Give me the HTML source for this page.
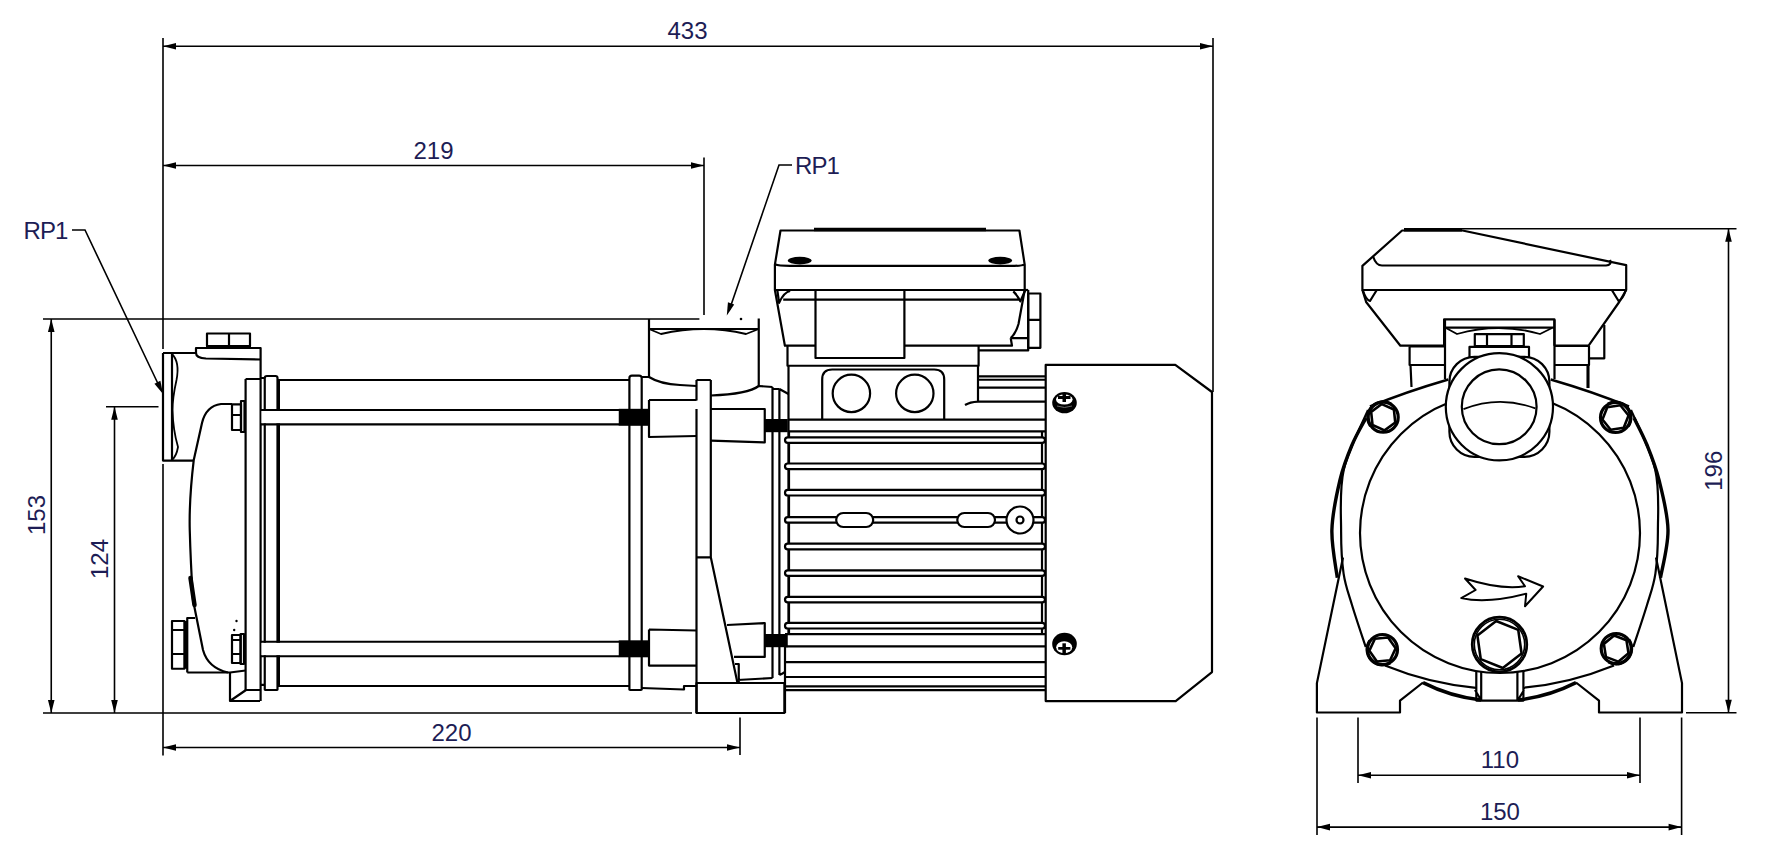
<!DOCTYPE html>
<html><head><meta charset="utf-8">
<style>
html,body{margin:0;padding:0;background:#fff;width:1772px;height:857px;overflow:hidden}
svg{display:block}
.d{stroke:#000;stroke-width:1.6;fill:none}
.m{stroke:#000;stroke-width:2.2;fill:none;stroke-linejoin:round}
.k{fill:#000;stroke:none}
.w{fill:#fff}
text{font-family:"Liberation Sans",sans-serif;font-size:24px;fill:#1d1d55}
</style></head><body>
<svg width="1772" height="857" viewBox="0 0 1772 857">
<!-- DIMENSIONS -->
<g id="dims">
<!-- 433 -->
<path class="d" d="M163,38V349 M1213,38V392 M163,46.2H1213"/>
<path class="k" d="M163,46.2l13,-3.3v6.6z M1213,46.2l-13,-3.3v6.6z"/>
<text x="687.5" y="39" text-anchor="middle">433</text>
<!-- 219 -->
<path class="d" d="M704,157.5V315 M163,165.5H704"/>
<path class="k" d="M163,165.5l13,-3.3v6.6z M704,165.5l-13,-3.3v6.6z"/>
<text x="433.5" y="158.5" text-anchor="middle">219</text>
<!-- 153 / 124 -->
<path class="d" d="M43,319H699.4 M43,713H692 M51.25,319V713 M106,406.75H158.5 M114.5,406.75V713"/>
<path class="k" d="M51.25,319l-3.3,13h6.6z M51.25,713l-3.3,-13h6.6z M114.5,406.75l-3.3,13h6.6z M114.5,713l-3.3,-13h6.6z"/>
<text transform="translate(45,515) rotate(-90)" text-anchor="middle">153</text>
<text transform="translate(108,559) rotate(-90)" text-anchor="middle">124</text>
<!-- 220 -->
<path class="d" d="M163,464V755.5 M740,717.4V755 M163,747.5H740"/>
<path class="k" d="M163,747.5l13,-3.3v6.6z M740,747.5l-13,-3.3v6.6z"/>
<text x="451.5" y="740.5" text-anchor="middle">220</text>
<!-- RP1 leaders -->
<path class="d" d="M72,230H85L161,390"/>
<path class="k" d="M163.00,394.00 L154.44,383.68 L160.40,380.84 Z"/>
<text x="23.5" y="239" letter-spacing="-0.9">RP1</text>
<path class="d" d="M792,165H779L729,311"/>
<path class="k" d="M726.80,315.60 L727.94,302.24 L734.18,304.40 Z"/><circle class="k" cx="741" cy="319" r="1.3"/>
<text x="795" y="174" letter-spacing="-0.9">RP1</text>
<!-- 196 -->
<path class="d" d="M1404.8,228.75H1736.5 M1686,712.7H1736.5 M1728.5,228.75V712.7"/>
<path class="k" d="M1728.5,228.75l-3.3,13h6.6z M1728.5,712.7l-3.3,-13h6.6z"/>
<text transform="translate(1721.5,470.75) rotate(-90)" text-anchor="middle">196</text>
<!-- 110 / 150 -->
<path class="d" d="M1358,717.5V783 M1640,717.5V783 M1358,775.2H1640 M1317,717.5V835 M1681.6,717.5V835 M1317,827.1H1681.6"/>
<path class="k" d="M1358,775.2l13,-3.3v6.6z M1640,775.2l-13,-3.3v6.6z M1317,827.1l13,-3.3v6.6z M1681.6,827.1l-13,-3.3v6.6z"/>
<text x="1499.9" y="768" text-anchor="middle">110</text>
<text x="1499.9" y="820" text-anchor="middle">150</text>
</g>

<!-- LEFT VIEW -->
<g id="left">
<!-- inlet flange -->
<path class="m" d="M163,353V460.6H193.75 M172,353V460.6 M163,353H196"/>
<path class="m" style="stroke-width:1.8" d="M172,354Q180,362 176.5,380Q172.5,398 172.5,410Q173,430 178,447Q176.5,456 172,460"/>
<!-- top bracket -->
<path class="m" d="M196,353V348H260.6V701 M196,353Q196,358 206,358.5L260.6,359.5"/>
<rect class="m" x="207" y="333.5" width="43" height="12.5"/>
<path class="m" d="M229,333.5V346"/>
<path class="m" style="stroke-width:3" d="M206,347H251"/>
<!-- body -->
<path class="m" d="M232,404H221Q206,406 202,423L193.75,460Q189,500 189.75,530Q190.5,560 193,600L203,650Q208,668 228,672.5"/>
<path class="m" style="stroke-width:4.5;stroke-linecap:round" d="M190.5,578L194.5,605"/>
<path class="m" d="M187.25,672.5H230L245.6,670.5"/>
<!-- nuts -->
<rect class="m" x="232" y="404.4" width="9" height="25.6"/>
<path class="m" d="M232,415H241 M241,401V432H244.5V401Z"/>
<rect class="m" x="232" y="635" width="8.6" height="28"/>
<path class="m" d="M232,640H240.6 M232,654H240.6 M240.6,634V664H244V634Z"/>
<rect class="m" x="172" y="621" width="12.4" height="47.75"/>
<path class="m" d="M172,630H184.4 M172,654H184.4"/>
<path class="m" style="stroke-width:3" d="M185.8,621V668.75"/>
<path class="m" d="M187.25,672.5V618H195"/>
<circle class="k" cx="236.5" cy="621" r="1.2"/><circle class="k" cx="234.2" cy="630" r="1.2"/>
<!-- foot -->
<path class="m" d="M230,672V701H260 M230,701L246,690H260"/>
<!-- plates -->
<path class="m" d="M245.6,379V690 M245.6,379H260.6 M260,684.8H264.5 M260,378H264.5"/>
<path class="m" d="M264.75,689.4V378Q264.75,376 267,376H275.5Q277.5,376 277.5,378V689.4Q277.5,690 275.5,690H267Q264.75,690 264.75,689.4Z"/>
<path class="m" style="stroke-width:3" d="M278.5,380V686"/>
<!-- tube -->
<path class="m" d="M278,380H629.4 M278,686H629.4"/>
<!-- rods -->
<rect class="w" x="261.5" y="411" width="358" height="12.4"/><rect class="w" x="261.5" y="642.75" width="358" height="12.5"/>
<path class="m" d="M261,410H619 M261,424.4H619 M261,641.75H619 M261,656.25H619"/>
<rect class="k" x="618.75" y="408.8" width="30.65" height="17"/>
<rect class="k" x="618.75" y="640.3" width="30.65" height="17"/>
<!-- right plate -->
<path class="m" d="M629.4,689.4V378Q629.4,375.6 632,375.6H639Q641.7,375.6 641.7,378V689.4Q641.7,690 639,690H632Q629.4,690 629.4,689.4Z"/>
<!-- blocks -->
<path class="m" d="M649,400H696.5 M649,400V437L696.5,436"/>
<path class="m" d="M649,629.5L696.5,630.5 M649,629.5V665.6H696.5"/>
<path class="m" d="M641.7,688L684,689.5V686H696.5"/>
<!-- bracket plate -->
<path class="m" d="M696.5,380V400.5 M696.5,409V713 M710.8,380V557.3 M696.5,380H710.8 M696.5,557.3H710.8 M710.8,557.3L737.5,683"/>
<path class="m" d="M711,409H764.75V442.5L711,440.6"/>
<path class="m" d="M727,625L764.75,623V656.9H734"/>
<rect class="k" x="764.75" y="419" width="23" height="13.2"/>
<rect class="k" x="764.75" y="634" width="23" height="13.2"/>
<path class="m" d="M735,664H738.75V682 M737.5,680L772.5,678"/>
<rect class="m" x="696.5" y="683" width="87.9" height="30"/>
<!-- outlet port -->
<path class="m" d="M649,319V377 M649,329H758.75 M758.75,318.5V386"/>
<path class="m" style="stroke-width:1.8" d="M649,329L661,334Q704,324 746,334L758.75,329"/>
<path class="m" d="M641.7,377H649 M649,377Q660,384 680,385L696.5,386 M758.75,386Q748,394 711,395.5 M758.75,386L772.5,387"/>
<path class="m" d="M772.5,387V678 M779.4,389V675 M779.4,389L788.5,394 M772.5,389H779.4 M779.4,675Q782,674 785,672"/>
<!-- motor -->
<path class="m" d="M788.5,366V634 M785,634V713 M788.5,419.7H1045.7 M788.5,431.4H1045.7"/>
<path class="m" d="M789,431V634 M1042,431V634"/>
<path class="m" d="M785,634.1H1045.7 M785,646.4H1045.7 M785,662.1H1045.7 M785,677H1045.7 M785,686.3H1045.7 M785,690.1H1045.7"/>
<rect class="m w" x="785" y="437.30" width="260" height="5.6" rx="2.8"/>
<rect class="m w" x="785" y="463.50" width="260" height="5.6" rx="2.8"/>
<rect class="m w" x="785" y="489.90" width="260" height="5.6" rx="2.8"/>
<rect class="m w" x="785" y="517.10" width="260" height="5.6" rx="2.8"/>
<rect class="m w" x="785" y="543.70" width="260" height="5.6" rx="2.8"/>
<rect class="m w" x="785" y="570.30" width="260" height="5.6" rx="2.8"/>
<rect class="m w" x="785" y="596.80" width="260" height="5.6" rx="2.8"/>
<rect class="m w" x="785" y="622.90" width="260" height="5.6" rx="2.8"/>

<rect class="m w" x="836.2" y="513" width="37" height="14" rx="7"/>
<rect class="m w" x="957.3" y="513" width="37.7" height="14" rx="7"/>
<circle class="m w" cx="1020" cy="520" r="13.5"/>
<circle class="m" cx="1020" cy="520" r="3.5"/>
<!-- end cover -->
<path class="m" d="M1045.7,364.9H1175.3L1212,392V672.1L1175.7,701.1H1045.7Z"/>
<!-- screws -->
<g><ellipse class="k" cx="1064.5" cy="402.7" rx="12.3" ry="10.6"/><ellipse class="w" cx="1064.3" cy="399.6" rx="8.3" ry="5"/><rect class="k" x="1058" y="396" width="12.5" height="3"/><rect class="k" x="1062.5" y="394" width="3.5" height="8"/><path d="M1057,406Q1064.5,409 1072,406" stroke="#666" stroke-width="1" fill="none"/></g>
<g><ellipse class="k" cx="1064.5" cy="644" rx="12.3" ry="11.2"/><ellipse class="w" cx="1064.2" cy="647.2" rx="8" ry="6"/><rect class="k" x="1058.2" y="647" width="12.2" height="2.7"/><rect class="k" x="1062.4" y="643.3" width="3.5" height="11"/></g>
<!-- terminal box -->
<path class="m" d="M787.5,345.7V365.75H978.6V345.7"/>
<path class="m" d="M822.2,419.7V379.5Q822.2,369.5 832.2,369.5H934.2Q944.2,369.5 944.2,379.5V419.7"/>
<circle class="m" cx="851.4" cy="393.4" r="18.7"/>
<circle class="m" cx="914.8" cy="393.4" r="18.7"/>
<path class="m" d="M978,366V401.6H1045.7 M978,376.3H1045.7 M978,379.75H1045.7 M978,387.6H1045.7 M978,401.6Q970,402 965,405"/>
<path class="m" d="M780.5,230.5H1019.4L1024.7,264.6V290H774.9V264.6Z"/><path class="m" d="M1024.7,290H1028.2"/>
<path class="m" style="stroke-width:3.5" d="M814,229.5H986"/>
<path class="m" d="M775.5,264.6Q778,265.9 790,265.9H1010Q1022,265.9 1024.2,264.6"/>
<ellipse class="k" cx="799.75" cy="260.6" rx="12" ry="3.8"/>
<ellipse class="k" cx="1000.2" cy="260.6" rx="12" ry="3.8"/>
<path class="m" d="M774.9,290L784.9,345.7H815.5 M904.4,345.7H1012L1010.7,338 M1024.7,290L1018.5,324Q1016,333 1010.7,338"/>
<path class="m" d="M783.2,299.6H1020 M777.3,290Q779,302 779.1,302.8Q784,292 790.2,291 M1013.3,291.4Q1018,296 1020.3,301.4L1025.4,290"/>
<rect class="m" x="815.5" y="290" width="88.9" height="68"/>
<rect class="m" x="1028.2" y="293.5" width="12.2" height="54.3"/>
<path class="m" d="M1028.2,319.8H1040.4 M1010.7,338.2H1028.2 M1028.2,290V350.4H978.6"/>
</g>

<!-- SIDE VIEW -->
<g id="side">
<!-- feet -->
<path class="m" d="M1343,557.5L1316.9,683.1V712.5H1400V700.6L1423,682.5"/>
<path class="m" d="M1656,557.5L1682,683.1V712.5H1599V700.6L1576,682.5"/>
<!-- motor outer arcs -->
<path class="m" style="stroke-width:3.4" d="M1366.00,418.00 C1363.67,422.50 1356.33,434.67 1352.00,445.00 C1347.67,455.33 1343.35,465.83 1340.00,480.00 C1336.65,494.17 1332.35,513.70 1331.90,530.00 C1331.45,546.30 1336.40,569.83 1337.30,577.80 M1634.00,418.00 C1636.17,422.50 1642.83,434.67 1647.00,445.00 C1651.17,455.33 1655.50,465.83 1659.00,480.00 C1662.50,494.17 1667.75,513.70 1668.00,530.00 C1668.25,546.30 1661.75,569.83 1660.50,577.80 M1423.00,682.63 A168.50,168.50 0 0 0 1481.01,699.98 M1576.00,682.63 A168.50,168.50 0 0 1 1517.99,699.98"/>
<!-- volute circle -->
<circle class="m" cx="1500" cy="533" r="140"/>
<!-- flange outline -->
<path class="m" d="M1368.00,410.00 C1363.95,420.00 1348.18,449.83 1343.70,470.00 C1339.22,490.17 1341.12,513.73 1341.10,531.00 C1341.08,548.27 1341.78,561.27 1343.60,573.60 C1345.42,585.93 1348.32,592.77 1352.00,605.00 C1355.68,617.23 1363.42,640.00 1365.70,647.00 M1631.00,410.00 C1635.05,420.00 1650.82,449.83 1655.30,470.00 C1659.78,490.17 1657.88,513.73 1657.90,531.00 C1657.92,548.27 1657.22,561.27 1655.40,573.60 C1653.58,585.93 1650.68,592.77 1647.00,605.00 C1643.32,617.23 1635.58,640.00 1633.30,647.00"/>
<path class="m" style="stroke-width:2.6" d="M1370,406.5Q1405,392 1448.3,379.4 M1629,406.5Q1594,392 1550.7,379.4"/>
<path class="m" d="M1385,665.6Q1430.3,684 1476,687.8 M1614,665.6Q1568.7,684 1523,687.8"/>
<!-- bolts -->
<circle class="m w" style="stroke-width:3.2" cx="1383.20" cy="417.20" r="15"/>
<path class="m" style="stroke-width:2.6" d="M1381.82,404.07 L1393.88,409.44 L1395.26,422.57 L1384.58,430.33 L1372.52,424.96 L1371.14,411.83Z"/>
<path class="m" style="stroke-width:2.2" d="M1391.15,403.43 A15.90,15.90 0 0 0 1370.18,426.32"/>
<circle class="m w" style="stroke-width:3.2" cx="1615.50" cy="417.50" r="15"/>
<path class="m" style="stroke-width:2.6" d="M1628.56,415.55 L1623.72,427.83 L1610.66,429.78 L1602.44,419.45 L1607.28,407.17 L1620.34,405.22Z"/>
<path class="m" style="stroke-width:2.2" d="M1607.55,403.73 A15.90,15.90 0 0 1 1628.52,426.62"/>
<circle class="m w" style="stroke-width:3.2" cx="1382.50" cy="649.50" r="15"/>
<path class="m" style="stroke-width:2.6" d="M1395.65,648.35 L1390.07,660.31 L1376.92,661.46 L1369.35,650.65 L1374.93,638.69 L1388.08,637.54Z"/>
<path class="m" style="stroke-width:2.2" d="M1369.48,640.38 A15.90,15.90 0 0 0 1390.45,663.27"/>
<circle class="m w" style="stroke-width:3.2" cx="1616.20" cy="648.60" r="15"/>
<path class="m" style="stroke-width:2.6" d="M1614.14,635.56 L1626.46,640.29 L1628.52,653.33 L1618.26,661.64 L1605.94,656.91 L1603.88,643.87Z"/>
<path class="m" style="stroke-width:2.2" d="M1629.22,639.48 A15.90,15.90 0 0 1 1608.25,662.37"/>
<!-- drain plug -->
<path class="m" d="M1476.3,671.6V700.6H1523.4V671.6 M1481.2,671.6V700.6 M1517.4,671.6V700.6 M1475,690L1481,700 M1524,690L1518,700"/>
<circle class="m w" style="stroke-width:2.7" cx="1499.5" cy="644.5" r="27.3"/>
<circle class="m" style="stroke-width:1.6" cx="1499.5" cy="644.5" r="25.2"/>
<path class="m" style="stroke-width:2.6" d="M1496.19,620.93 L1518.25,629.85 L1521.57,653.42 L1502.81,668.07 L1480.75,659.15 L1477.43,635.58Z"/>

<!-- arrow -->
<path class="m" style="stroke-width:2" d="M1465,578.5L1475.6,590L1461.25,598.1Q1487,604 1526.25,593.75L1525,606.25L1543.1,586.5L1518.1,576.25L1525,586.25Q1500,590 1465,578.5Z"/>
<!-- terminal box / gland -->
<path class="m" d="M1445,319.4V379 M1554.5,319.4V379"/>
<path class="m" d="M1409.6,346.4H1444 M1409.6,346.4V365H1444 M1410.5,365L1411.5,387"/>
<path class="m" d="M1589,346H1554.5 M1589,346V365H1554.5 M1588,365V388"/>
<path class="m" style="stroke-width:3" d="M1588,365V388"/>
<path class="m" d="M1604.3,325V358.3H1589"/>
<path class="m" d="M1402.1,230.5H1462.5L1626.2,265.2V290H1362.4V265.9Z"/>
<path class="m" style="stroke-width:3.5" d="M1404,229.8H1462"/>
<path class="m" d="M1373.3,257Q1376,265.5 1382,265.5H1606Q1612,265 1610,260"/>
<path class="m" d="M1362.4,290L1366.3,302.3L1400.4,345.7H1444.1 M1626.2,290L1619.2,302L1588.6,345.7H1554.4"/>
<path class="m" d="M1362.75,290Q1366,300 1370,301Q1373,296 1376.8,290 M1625.85,290Q1622.5,300 1618.6,301Q1615.5,296 1611.8,290"/>
<path class="m" d="M1444.1,345.7V319.4H1554.4V345.7 M1444.1,327.6H1554.4"/>
<path class="m" style="stroke-width:1.8" d="M1446,328L1457,334Q1499,322 1540,334L1552,328"/>
<rect class="m" x="1469.5" y="346.9" width="59.5" height="10.5"/>
<rect class="m" x="1474.8" y="334.1" width="49" height="12.8"/>
<path class="m" d="M1487,334.1V346.9 M1511.5,334.1V346.9"/>
<path class="m" style="stroke-width:3" d="M1474.8,346.5H1523.8"/>
<!-- port -->
<rect class="m w" x="1449.4" y="356.8" width="100" height="100" rx="25"/>
<circle class="m w" cx="1499.4" cy="406.8" r="53.6"/>
<circle class="m" cx="1499.2" cy="406.8" r="37.4"/>
<path class="m" style="stroke-width:1.8" d="M1463.5,409.2Q1499,395 1535.4,408.4"/>
</g>
</svg>
</body></html>
